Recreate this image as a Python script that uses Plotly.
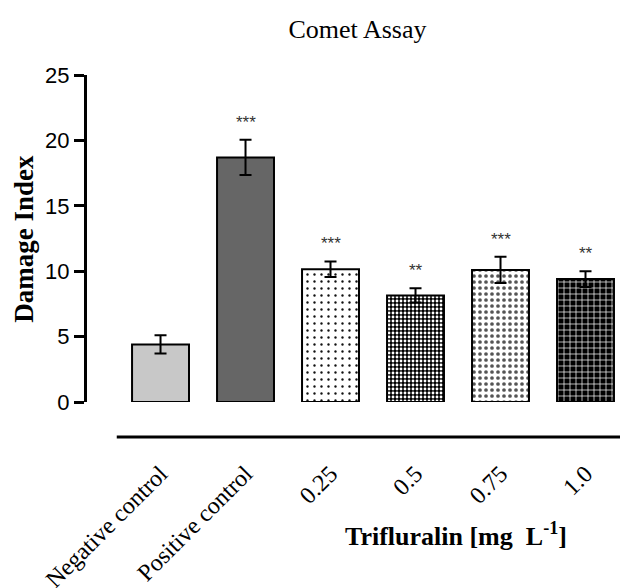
import plotly.graph_objects as go

categories = ["Negative control", "Positive control", "0.25", "0.5", "0.75", "1.0"]
damage_index = [4.4, 18.7, 10.15, 8.15, 10.1, 9.4]
sem = [0.7, 1.35, 0.6, 0.55, 1.0, 0.6]
significance = ["", "***", "***", "**", "***", "**"]
y_ticks = [0, 5, 10, 15, 20, 25]

SERIF = "Liberation Serif"
SANS = "Liberation Sans"

bar_colors = ["#c8c8c8", "#666666", "white", "black", "white", "black"]
pat_shape = ["", "", ".", ".", ".", "+"]
pat_fg = ["black", "black", "#111111", "white", "#555555", "white"]
pat_size = [8, 8, 7, 4, 6, 6]
pat_sol = [0.3, 0.3, 0.09, 0.4, 0.3, 0.22]

fig = go.Figure()
for i in range(len(categories)):
    fig.add_trace(go.Bar(
        x=[categories[i]], y=[damage_index[i]], width=0.67,
        marker=dict(
            color=bar_colors[i],
            line=dict(color="black", width=2),
            pattern=dict(shape=pat_shape[i], fgcolor=pat_fg[i], bgcolor=bar_colors[i],
                         size=pat_size[i], solidity=pat_sol[i], fillmode="replace"),
        ),
        error_y=dict(type="data", array=[sem[i]], color="black", thickness=2, width=6),
        showlegend=False,
    ))

annotations = []
for i, (v, e, s) in enumerate(zip(damage_index, sem, significance)):
    if s:
        annotations.append(dict(x=i, y=v + e, xref="x", yref="y", text=s,
                                showarrow=False, yanchor="bottom", yshift=6,
                                font=dict(family=SANS, size=17, color="#333333")))

annotations.append(dict(x=-0.118, y=0.5, xref="paper", yref="paper",
                        text="<b>Damage Index</b>", textangle=-90, showarrow=False,
                        xanchor="center", yanchor="middle",
                        font=dict(family=SERIF, size=27, color="black")))
annotations.append(dict(x=0.682, y=-0.405, xref="paper", yref="paper",
                        text="<b>Trifluralin [mg\u00a0\u00a0L<sup>-1</sup>]</b>", showarrow=False,
                        xanchor="center", yanchor="middle",
                        font=dict(family=SERIF, size=26, color="black")))

# page has an 8px body margin: figure is 620x580 so the plot lands at the reference pixels
fig.update_layout(
    width=620, height=580,
    margin=dict(l=79, r=0, t=67, b=186),
    plot_bgcolor="white", paper_bgcolor="white",
    barmode="overlay",
    title=dict(text="Comet Assay", x=0.5, xref="paper", y=1 - 21 / 580,
               yanchor="middle", xanchor="center",
               font=dict(family=SERIF, size=26, color="black")),
    annotations=annotations,
    shapes=[dict(type="line", xref="paper", yref="paper", x0=0.055, x1=1,
                 y0=-0.107, y1=-0.107, line=dict(color="black", width=3))],
)
fig.update_xaxes(range=[-0.865, 5.5], showline=False, showgrid=False, zeroline=False,
                 ticks="", tickangle=-45, ticklabelstandoff=52, automargin=False,
                 categoryorder="array", categoryarray=categories,
                 tickfont=dict(family=SERIF, size=24, color="black"))
fig.update_yaxes(range=[0, 25], tickvals=y_ticks, showline=True, linewidth=3,
                 linecolor="black", ticks="outside", ticklen=10, tickwidth=3,
                 tickcolor="black", showgrid=False, zeroline=False, ticklabelstandoff=0,
                 automargin=False,
                 tickfont=dict(family=SANS, size=22, color="black"))

fig.write_html("out.html")
